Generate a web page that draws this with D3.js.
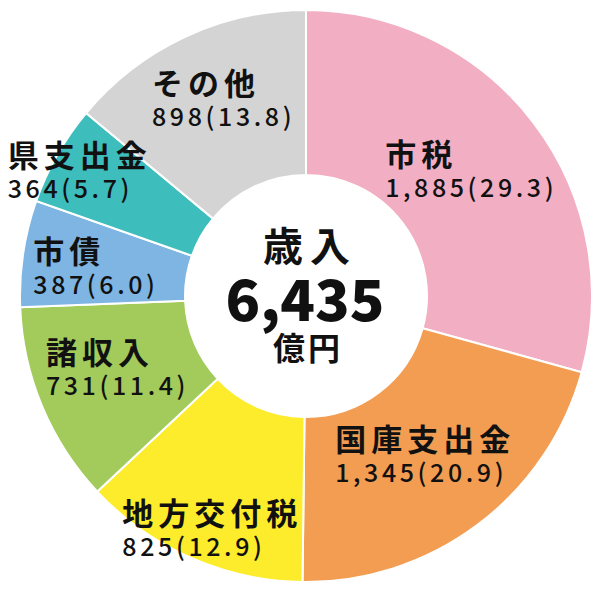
<!DOCTYPE html>
<html>
<head>
<meta charset="utf-8">
<script src="https://cdnjs.cloudflare.com/ajax/libs/d3/7.8.5/d3.min.js"></script>
<style>
  html, body { margin: 0; padding: 0; background: #fff; }
  svg { display: block; }
  text { font-family: "Noto Sans CJK JP", "Noto Sans", sans-serif; fill: #111; }
</style>
</head>
<body>
<div id="chart"></div>
<script>
// revenue breakdown (億円), clockwise from 12 o'clock
const categories = ['市税', '国庫支出金', '地方交付税', '諸収入', '市債', '県支出金', 'その他'];
const amounts = [1885, 1345, 825, 731, 387, 364, 898];
const shares = ['29.3', '20.9', '12.9', '11.4', '6.0', '5.7', '13.8'];
const colors = ['#f2aec3', '#f29d52', '#fcec2b', '#a3cb5b', '#7fb5e3', '#3ebdbd', '#d4d4d4'];
const totalLabel = '6,435';

// label nudges from the slice centroid (left edge / name baseline)
const labelNudge = [[-84, -6], [-94, -9], [-101, 41], [-71, -11], [-70, -2], [-120, -28], [-67, -15]];

const width = 603, height = 595;
const cx = 306, cy = 296;
const outerR = 286, innerR = 121, labelR = 205;

const svg = d3.select('#chart').append('svg')
  .attr('width', width)
  .attr('height', height);

const g = svg.append('g').attr('transform', `translate(${cx},${cy})`);

const pie = d3.pie().sort(null).value(d => d.value);
const arcs = pie(categories.map((c, i) => ({ name: c, value: amounts[i], share: shares[i], i })));

const arc = d3.arc().innerRadius(innerR).outerRadius(outerR);
const labelArc = d3.arc().innerRadius(labelR).outerRadius(labelR);

g.selectAll('path.slice')
  .data(arcs)
  .join('path')
  .attr('class', 'slice')
  .attr('d', arc)
  .attr('fill', d => colors[d.data.i])
  .attr('stroke', '#fff')
  .attr('stroke-width', 2);

const labels = g.selectAll('g.label')
  .data(arcs)
  .join('g')
  .attr('class', 'label')
  .attr('transform', d => {
    const [x, y] = labelArc.centroid(d);
    const [dx, dy] = labelNudge[d.data.i];
    return `translate(${x + dx},${y + dy})`;
  });

labels.append('text')
  .attr('font-size', 31)
  .attr('font-weight', 700)
  .attr('letter-spacing', 5)
  .text(d => d.data.name);

labels.append('text')
  .attr('y', 31)
  .attr('font-size', 25)
  .attr('font-weight', 500)
  .attr('letter-spacing', 3.6)
  .text(d => `${d3.format(',')(d.data.value)}(${d.data.share})`);

// centre
const center = g.append('g').attr('text-anchor', 'middle');
center.append('text')
  .attr('y', -35)
  .attr('x', 4)
  .attr('font-size', 40)
  .attr('font-weight', 700)
  .attr('letter-spacing', 7)
  .text('歳入');
center.append('text')
  .attr('y', 25)
  .attr('x', -1)
  .attr('font-size', 57)
  .attr('font-weight', 900)
  .text(totalLabel);
center.append('text')
  .attr('y', 64)
  .attr('x', 2)
  .attr('font-size', 32)
  .attr('font-weight', 700)
  .attr('letter-spacing', 3)
  .text('億円');
</script>
</body>
</html>
